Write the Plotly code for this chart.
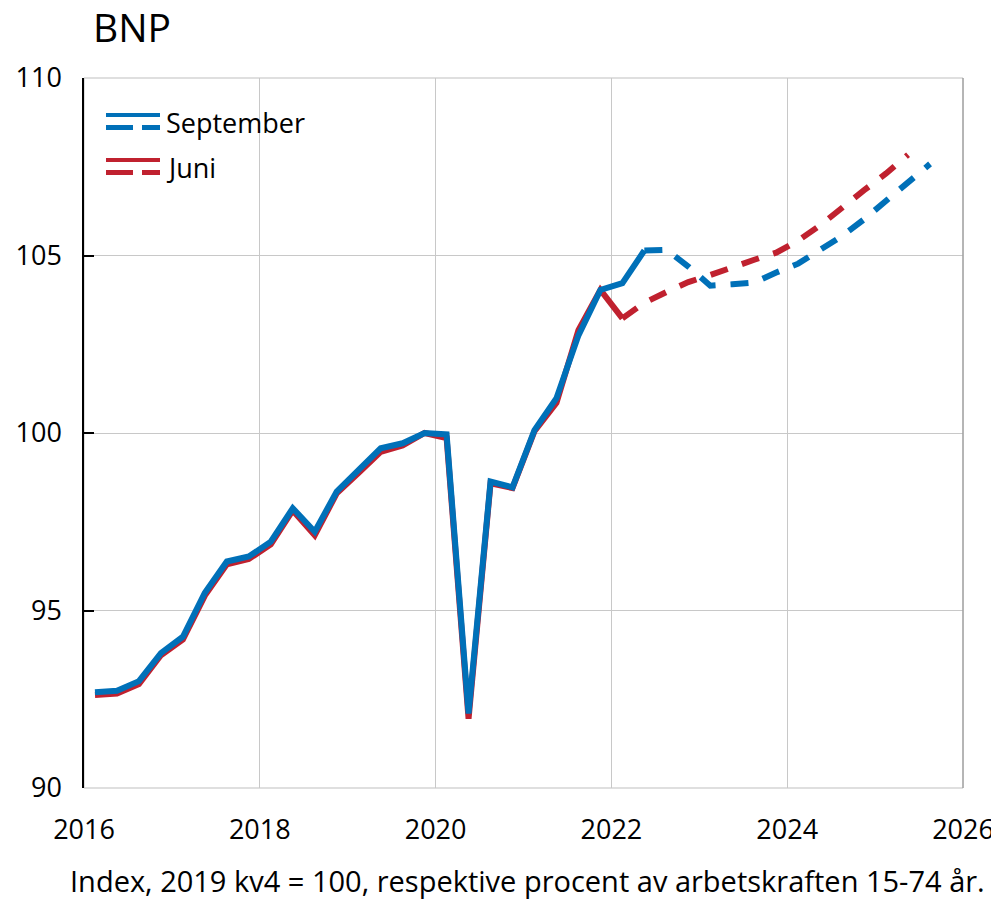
import plotly.graph_objects as go

# ---- data -------------------------------------------------------------
hist_quarters = [f"{y}K{q}" for y in range(2016, 2023) for q in range(1, 5)]

sep_hist_q = hist_quarters[:26]          # 2016K1 .. 2022K2
sep_hist = [92.70, 92.74, 93.01, 93.80,
            94.26, 95.50, 96.38, 96.52,
            96.94, 97.88, 97.22, 98.35,
            98.96, 99.57, 99.71, 100.00,
            99.96, 92.10, 98.63, 98.47,
            100.08, 100.98, 102.75, 104.03,
            104.22, 105.14]

sep_fc_q = ["2022K2", "2022K3", "2022K4",
            "2023K1", "2023K2", "2023K3", "2023K4",
            "2024K1", "2024K2", "2024K3", "2024K4",
            "2025K1", "2025K2", "2025K3"]
sep_fc = [105.14, 105.16, 104.69,
          104.15, 104.19, 104.24, 104.52,
          104.77, 105.16, 105.55, 106.02,
          106.53, 107.06, 107.58]

jun_hist_q = hist_quarters[:25]          # 2016K1 .. 2022K1
jun_hist = [92.62, 92.66, 92.93, 93.74,
            94.18, 95.42, 96.30, 96.45,
            96.86, 97.82, 97.12, 98.30,
            98.88, 99.47, 99.65, 100.00,
            99.86, 91.95, 98.58, 98.45,
            100.05, 100.85, 102.90, 104.03,
            103.23]

jun_fc_q = ["2022K1", "2022K2", "2022K3", "2022K4",
            "2023K1", "2023K2", "2023K3", "2023K4",
            "2024K1", "2024K2", "2024K3", "2024K4",
            "2025K1", "2025K2"]
jun_fc = [103.23, 103.67, 103.97, 104.25,
          104.45, 104.68, 104.88, 105.08,
          105.42, 105.85, 106.37, 106.84,
          107.31, 107.84]

x_ticks = [2016, 2018, 2020, 2022, 2024, 2026]
y_ticks = [90, 95, 100, 105, 110]

title_text = "BNP"
caption_text = "Index, 2019 kv4 = 100, respektive procent av arbetskraften 15-74 år."
series_names = ["September", "Juni"]

BLUE = "#0070b8"
RED = "#c0212f"
FONT = "Open Sans"


def qpos(label):
    y, q = label.split("K")
    return int(y) + (int(q) - 0.5) / 4.0


fig = go.Figure()

# Juni (drawn below)
fig.add_trace(go.Scatter(x=[qpos(q) for q in jun_hist_q], y=jun_hist, mode="lines",
                         line=dict(color=RED, width=6), showlegend=False, hoverinfo="skip"))
fig.add_trace(go.Scatter(x=[qpos(q) for q in jun_fc_q], y=jun_fc, mode="lines",
                         line=dict(color=RED, width=6, dash="18px,15px"),
                         showlegend=False, hoverinfo="skip"))
# September (on top)
fig.add_trace(go.Scatter(x=[qpos(q) for q in sep_hist_q], y=sep_hist, mode="lines",
                         line=dict(color=BLUE, width=6), showlegend=False, hoverinfo="skip"))
fig.add_trace(go.Scatter(x=[qpos(q) for q in sep_fc_q], y=sep_fc, mode="lines",
                         line=dict(color=BLUE, width=6, dash="18px,15px"),
                         showlegend=False, hoverinfo="skip"))

# ---- layout -----------------------------------------------------------
OFF = 8                      # page body margin
W, H = 999 - OFF, 899 - OFF
L, T = 84 - OFF, 78 - OFF
R = W - (963 - OFF)
B = H - (788 - OFF)
pw, ph = W - L - R, H - T - B


def px(xpix):
    return (xpix - OFF - L) / pw


def py(ypix):
    return (H - B - (ypix - OFF)) / ph


shapes = []
shapes.append(dict(type="rect", xref="paper", yref="paper", x0=0, x1=1, y0=0, y1=1,
                   line=dict(color="#bfbfbf", width=1), layer="below"))
shapes.append(dict(type="line", xref="paper", yref="paper", x0=1, x1=1, y0=0, y1=1,
                   line=dict(color="#8c8c8c", width=1)))

annotations = []
for i, (name, col) in enumerate(zip(series_names, [BLUE, RED])):
    top = 115 + i * 45
    bot = 127.5 + i * 45
    shapes.append(dict(type="line", xref="paper", yref="paper",
                       x0=px(106), x1=px(160), y0=py(top), y1=py(top),
                       line=dict(color=col, width=4)))
    shapes.append(dict(type="line", xref="paper", yref="paper",
                       x0=px(106), x1=px(133), y0=py(bot), y1=py(bot),
                       line=dict(color=col, width=5)))
    shapes.append(dict(type="line", xref="paper", yref="paper",
                       x0=px(142), x1=px(160), y0=py(bot), y1=py(bot),
                       line=dict(color=col, width=5)))
    annotations.append(dict(text=name, xref="paper", yref="paper",
                            x=px(164), y=py(122 + i * 45), xanchor="left", yanchor="middle",
                            showarrow=False, font=dict(family=FONT, size=27, color="black")))

annotations.append(dict(text=caption_text, xref="paper", yref="paper",
                        x=px(527), y=py(880), xanchor="center", yanchor="middle",
                        showarrow=False, font=dict(family=FONT, size=29, color="black")))

fig.update_layout(
    width=W, height=H,
    margin=dict(l=L, r=R, t=T, b=B, pad=0, autoexpand=False),
    paper_bgcolor="white", plot_bgcolor="white",
    font=dict(family=FONT, size=27, color="black"),
    title=dict(text=title_text, x=(93 - OFF) / W, xref="container", xanchor="left",
               y=1 - (28 - OFF) / H, yref="container", yanchor="middle",
               font=dict(family=FONT, size=39, color="black")),
    showlegend=False,
    shapes=shapes,
    annotations=annotations,
    xaxis=dict(range=[2016, 2026], tickvals=x_ticks, ticktext=[str(v) for v in x_ticks],
               showgrid=True, gridcolor="#c8c8c8", gridwidth=1, automargin=False,
               showline=False, zeroline=False, ticks="", ticklabelstandoff=23,
               tickfont=dict(family=FONT, size=27, color="black")),
    yaxis=dict(range=[90, 110], tickvals=y_ticks, ticktext=[str(v) for v in y_ticks],
               showgrid=True, gridcolor="#c8c8c8", gridwidth=1, automargin=False,
               showline=True, linecolor="black", linewidth=1.5, zeroline=False,
               ticks="inside", ticklen=10, tickcolor="black", tickwidth=1.5,
               ticklabelstandoff=15,
               tickfont=dict(family=FONT, size=27, color="black")),
)

fig.write_html("out.html")
